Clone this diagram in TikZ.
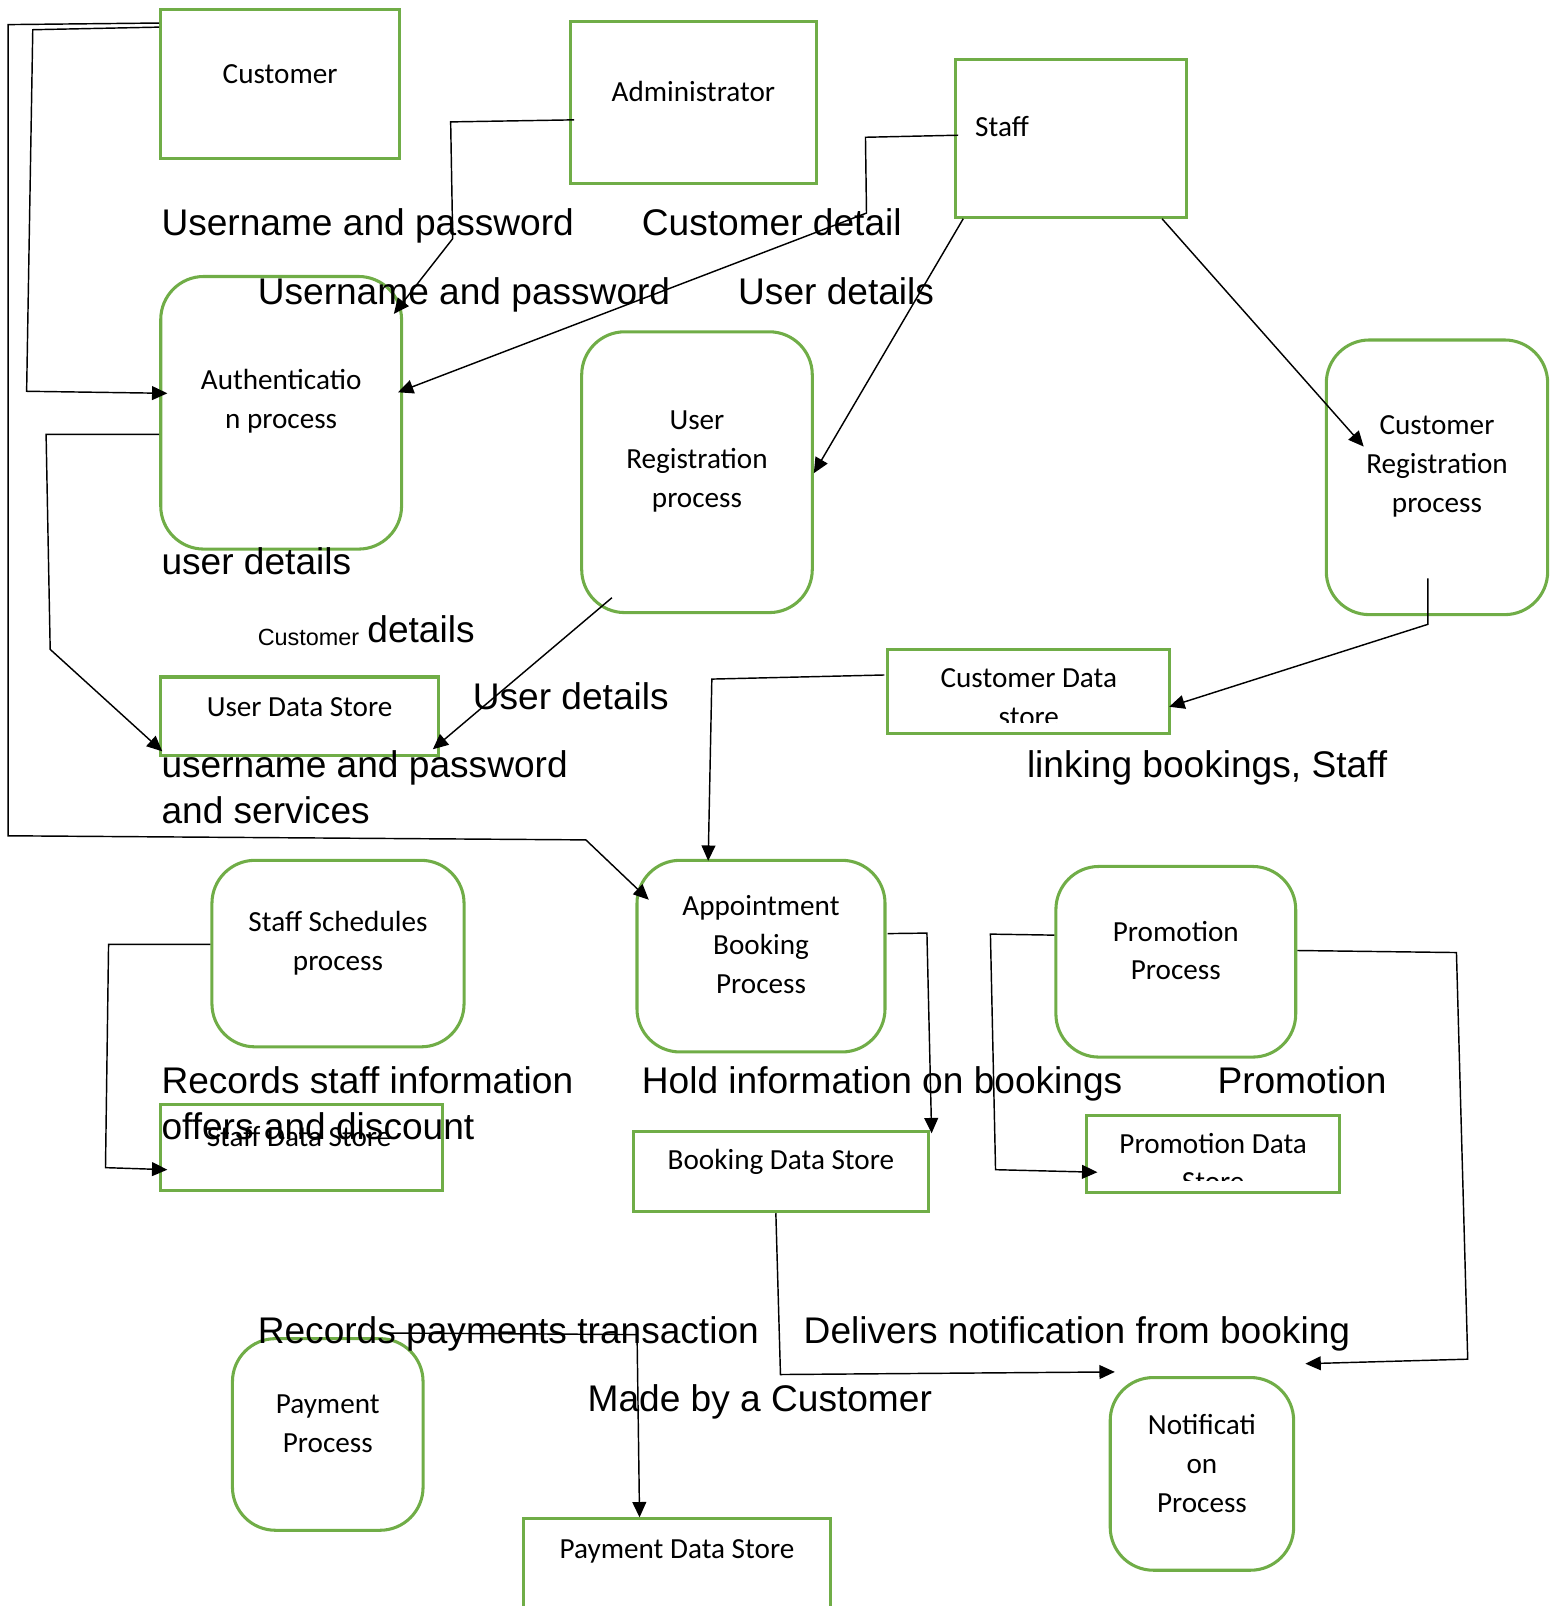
\documentclass[tikz,border=0pt]{standalone}
\usepackage{fontspec}
\setmainfont{Liberation Sans}
\newfontfamily\calibrifont{Carlito}
\usepackage{tikz}
\usetikzlibrary{arrows.meta,calc}
\definecolor{dfdgreen}{RGB}{112,173,71}

\begin{document}
\begin{tikzpicture}[x=0.01cm, y=-0.01cm,
    ent/.style={draw=dfdgreen, line width=0.85pt, inner sep=0pt},
    proc/.style={ent, rounded corners=4.2mm},
    inbox/.style={align=center, inner sep=0pt, font=\calibrifont\fontsize{8.1}{10.8}\selectfont},
    lbl/.style={anchor=base west, inner sep=0pt, font=\fontsize{10.3}{12}\selectfont},
    flow/.style={line width=0.4pt},
    arr/.style={flow, -{Triangle[length=1.5mm, width=1.35mm]}}]
    \useasboundingbox (0,0) rectangle (1522,1568);
    \clip (0,0) rectangle (1522,1568);

    \node[ent, minimum width=2.33cm, minimum height=1.46cm,
      label={[inbox, yshift=1mm]center:Customer}] (cust) at (273.5,82) {};
    \node[ent, minimum width=2.4cm, minimum height=1.58cm,
      label={[inbox, yshift=1.1mm]center:Administrator}] (admin) at (677,100) {};
    \node[ent, minimum width=2.25cm, minimum height=1.54cm,
      label={[inbox, anchor=west, xshift=2mm, yshift=1.1mm]west:Staff}] (staff) at (1045.5,135) {};

    \node[proc, minimum width=2.35cm, minimum height=2.66cm,
      label={[inbox, yshift=1.1mm]center:Authenticatio\\n process}] (auth) at (274.5,403) {};
    \node[proc, minimum width=2.25cm, minimum height=2.74cm,
      label={[inbox, yshift=1.05mm]center:User\\Registration\\process}] (ureg) at (680.5,461) {};
    \node[proc, minimum width=2.16cm, minimum height=2.68cm,
      label={[inbox, yshift=1.05mm]center:Customer\\Registration\\process}] (creg) at (1403,466) {};
    \node[proc, minimum width=2.46cm, minimum height=1.82cm,
      label={[inbox, yshift=1.05mm]center:Staff Schedules\\process}] (ss) at (330,931) {};
    \node[proc, minimum width=2.42cm, minimum height=1.87cm,
      label={[inbox, yshift=1.1mm]center:Appointment\\Booking\\Process}] (appt) at (743,933.5) {};
    \node[proc, minimum width=2.34cm, minimum height=1.86cm,
      label={[inbox, yshift=1.1mm]center:Promotion\\Process}] (promo) at (1148,939) {};
    \node[proc, minimum width=1.86cm, minimum height=1.87cm,
      label={[inbox, yshift=1.05mm]center:Payment\\Process}] (pay) at (320,1400.5) {};
    \node[proc, minimum width=1.79cm, minimum height=1.88cm,
      label={[inbox, yshift=1mm]center:Notificati\\on\\Process}] (notif) at (1173.5,1439) {};

    \node[ent, minimum width=2.71cm, minimum height=0.77cm,
      label={[inbox, yshift=0.95mm]center:User Data Store}] (uds) at (292.5,699.5) {};
    \node[ent, minimum width=2.75cm, minimum height=0.82cm] (custds) at (1004.5,675) {};
    \node[ent, minimum width=2.75cm, minimum height=0.84cm,
      label={[inbox, xshift=-0.25mm, yshift=1mm]center:Staff Data Store}] (sds) at (294.5,1120) {};
    \node[ent, minimum width=2.87cm, minimum height=0.78cm,
      label={[inbox, yshift=1mm]center:Booking Data Store}] (bds) at (762.5,1144) {};
    \node[ent, minimum width=2.47cm, minimum height=0.75cm] (pds) at (1184.5,1126.5) {};
    \node[ent, minimum width=3cm, minimum height=1.07cm,
      label={[inbox, yshift=2.15mm]center:Payment Data Store}] (payds) at (661,1536.5) {};

    \begin{scope}
      \clip (867,634) rectangle (1142,705);
      \node[inbox] (custdstxt) at (1004.5,681.5) {Customer Data\\store};
    \end{scope}
    \begin{scope}
      \clip (1061,1089) rectangle (1308,1153);
      \node[inbox] (pdstxt) at (1184.5,1135) {Promotion Data\\Store};
    \end{scope}

    \node[lbl] (lup) at (157,230) {Username and password};
    \node[lbl] (lcd) at (626,230) {Customer detail};
    \node[lbl] (lup2) at (251,297) {Username and password};
    \node[lbl] (lud) at (720,297) {User details};
    \node[lbl] (lud2) at (157,561) {user details};
    \node[lbl, font=\fontsize{6.5}{8}\selectfont] (lcsmall) at (251,630) {Customer};
    \node[lbl] (ldet) at (358,627) {details};
    \node[lbl] (lud3) at (461,693) {User details};
    \node[lbl] (lup3) at (157,759) {username and password};
    \node[lbl] (lserv) at (157,804) {and services};
    \node[lbl] (llink) at (1002,759) {linking bookings, Staff};
    \node[lbl] (lrec) at (157,1068) {Records staff information};
    \node[lbl] (loff) at (157,1113) {offers and discount};
    \node[lbl] (lhold) at (626,1068) {Hold information on bookings};
    \node[lbl] (lpromo) at (1188,1068) {Promotion};
    \node[lbl] (lpay) at (251,1312) {Records payments transaction};
    \node[lbl] (ldeliv) at (784,1312) {Delivers notification from booking};
    \node[lbl] (lmade) at (573,1378) {Made by a Customer};

    \draw[arr] ($(cust.north west)+(0,15)$) -- (8,24) -- (8,816) -- (572,820) -- ($(appt.north west)+(13,40)$);
    \draw[arr] ($(cust.north west)+(0,19)$) -- (32,29) -- (26,382) -- ($(auth.west)+(8,-19)$);
    \draw[arr] ($(auth.west)+(0,21)$) -- (45,424) -- (49,634) -- ($(uds.south west)+(3,-6)$);
    \draw[arr] ($(admin.west)+(5,17)$) -- (440,119) -- (442,233) -- ($(auth.north east)+(-9,38)$);
    \draw[arr] ($(staff.west)+(4,-3)$) -- (845,134) -- (846,208) -- ($(auth.east)+(-5,-20)$);
    \draw[arr] ($(staff.south west)+(9,0)$) -- ($(ureg.east)+(0,1)$);
    \draw[arr] ($(staff.south east)+(-25,0)$) -- ($(creg.west)+(38,-30)$);
    \draw[arr] ($(creg.south)+(-9,-37)$) -- ($(creg.south)+(-9,8)$) -- ($(custds.east)+(-2,15)$);
    \draw[arr] ($(custds.west)+(-2,-16)$) -- (695,663) -- ($(appt.north west)+(71,2)$);
    \draw[arr] ($(ureg.south west)+(31,-16)$) -- ($(uds.south east)+(-7,-8)$);
    \draw[arr] ($(appt.east)+(1,-22)$) -- (905,911) -- ($(bds.north east)+(2,3)$);
    \draw[arr] ($(promo.west)+(0,-26)$) -- (967,912) -- (972,1142) -- ($(pds.west)+(12,18)$);
    \draw[arr] ($(promo.east)+(0,-11)$) -- (1422,930) -- (1433,1327) -- ($(notif.north east)+(10,-12)$);
    \draw[arr] ($(ss.west)+(0,-9)$) -- (106,922) -- (103,1140) -- ($(sds.west)+(8,22)$);
    \draw[arr] ($(bds.south)+(-5,0)$) -- (762,1342) -- ($(notif.north west)+(6,-4)$);
    \draw[arr] ($(pay.north)+(58,-4)$) -- (622,1303) -- ($(payds.north west)+(115,0)$);
\end{tikzpicture}
\end{document}
